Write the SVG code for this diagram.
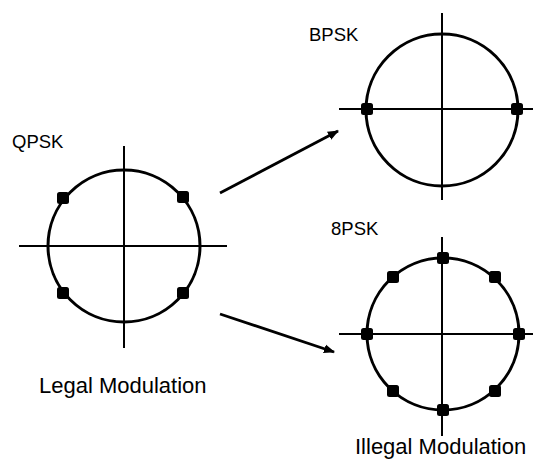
<svg xmlns="http://www.w3.org/2000/svg" width="534" height="460" viewBox="0 0 534 460">
<defs>
<style>
.axis{stroke:#000;stroke-width:2;fill:none}
.ring{stroke:#000;stroke-width:3;fill:none}
.dot{fill:#000}
.lbl{font-family:"Liberation Sans",Arial,sans-serif;font-size:18.5px;fill:#000}
.cap{font-family:"Liberation Sans",Arial,sans-serif;font-size:22px;fill:#000}
.conn{stroke:#000;stroke-width:2.8;fill:none}
</style>
<marker id="ah" viewBox="0 0 10 10" refX="9" refY="5" markerWidth="4" markerHeight="4" orient="auto" markerUnits="strokeWidth">
<path d="M0,1 L10,5 L0,9 z" fill="#000"/>
</marker>
</defs>
<rect width="534" height="460" fill="#fff"/>
<g id="qpsk">
<text class="lbl" x="12" y="148">QPSK</text>
<line class="axis" x1="124" y1="146" x2="124" y2="348"/>
<line class="axis" x1="19" y1="246" x2="227" y2="246"/>
<circle class="ring" cx="124" cy="246" r="76"/>
<rect class="dot" x="57" y="192" width="12" height="12" rx="2.5"/>
<rect class="dot" x="177" y="191" width="12" height="12" rx="2.5"/>
<rect class="dot" x="57" y="287" width="12" height="12" rx="2.5"/>
<rect class="dot" x="177" y="287" width="12" height="12" rx="2.5"/>
</g>
<g id="bpsk">
<text class="lbl" x="309" y="41">BPSK</text>
<line class="axis" x1="442" y1="13" x2="442" y2="200"/>
<line class="axis" x1="339" y1="109" x2="533" y2="109"/>
<circle class="ring" cx="442" cy="110" r="76"/>
<rect class="dot" x="361" y="103" width="12" height="12" rx="2.5"/>
<rect class="dot" x="511" y="103" width="12" height="12" rx="2.5"/>
</g>
<g id="psk8">
<text class="lbl" x="331" y="235">8PSK</text>
<line class="axis" x1="442" y1="237" x2="442" y2="436"/>
<line class="axis" x1="339" y1="334" x2="533" y2="334"/>
<circle class="ring" cx="443" cy="334" r="76"/>
<rect class="dot" x="437" y="252" width="12" height="12" rx="2.5"/>
<rect class="dot" x="437" y="404" width="12" height="12" rx="2.5"/>
<rect class="dot" x="361" y="328" width="12" height="12" rx="2.5"/>
<rect class="dot" x="513" y="328" width="12" height="12" rx="2.5"/>
<rect class="dot" x="387" y="271" width="12" height="12" rx="2.5"/>
<rect class="dot" x="489" y="271" width="12" height="12" rx="2.5"/>
<rect class="dot" x="387" y="385" width="12" height="12" rx="2.5"/>
<rect class="dot" x="489" y="385" width="12" height="12" rx="2.5"/>
</g>
<g id="connectors">
<line class="conn" x1="220" y1="193" x2="338" y2="131" marker-end="url(#ah)"/>
<line class="conn" x1="220" y1="314" x2="334" y2="352" marker-end="url(#ah)"/>
</g>
<g id="captions">
<text class="cap" x="39" y="393">Legal Modulation</text>
<text class="cap" x="355" y="454">Illegal Modulation</text>
</g>
</svg>
